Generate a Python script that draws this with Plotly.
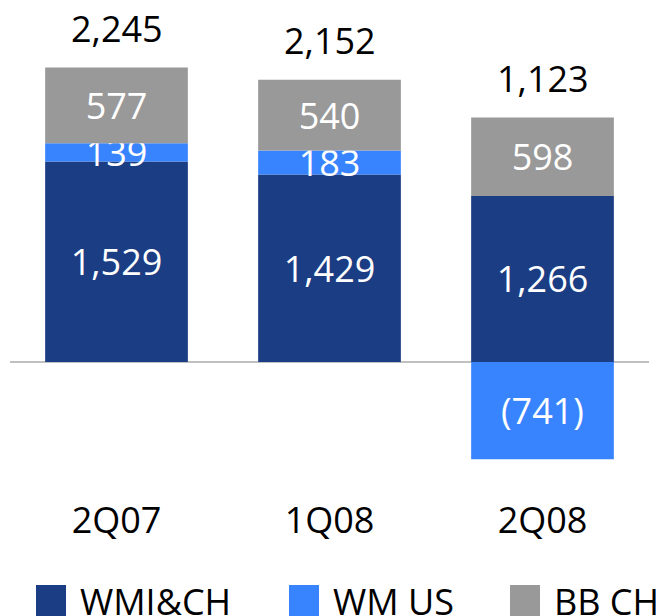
import plotly.graph_objects as go

categories = ["2Q07", "1Q08", "2Q08"]
series_names = ["WMI&CH", "WM US", "BB CH"]
wmi_ch = [1529, 1429, 1266]
wm_us = [139, 183, -741]
bb_ch = [577, 540, 598]
totals = [2245, 2152, 1123]

colors = ["#1B3D84", "#3884FF", "#999999"]
FONT = "Open Sans"

# the page body adds an 8px offset; compensate so screen positions match
OFF = 8
L, T, W, H = 10 - OFF, 21 - OFF, 639, 459
R = 664 - L - W
B = 616 - T - H


def px_x(sx):
    return (sx - OFF - L) / W


def px_y(sy):
    return (T + H - (sy - OFF)) / H


def fmt(v):
    return f"{v:,}" if v >= 0 else f"({-v:,})"


fig = go.Figure()
for name, vals, col in zip(series_names, [wmi_ch, wm_us, bb_ch], colors):
    fig.add_trace(go.Bar(
        x=categories, y=vals, name=name,
        marker=dict(color=col, line=dict(width=0)),
        text=[fmt(v) for v in vals],
        textposition="inside", insidetextanchor="middle",
        textangle=0, constraintext="none",
        textfont=dict(family=FONT, size=36, color="white"),
        showlegend=False,
    ))

# total labels above positive stack
for i, c in enumerate(categories):
    pos_top = sum(v for v in (wmi_ch[i], wm_us[i], bb_ch[i]) if v > 0)
    fig.add_annotation(x=c, y=pos_top, text=fmt(totals[i]), showarrow=False,
                       yanchor="middle", yshift=39,
                       font=dict(family=FONT, size=36, color="black"))

# custom legend
legend_x = [36, 289, 510]
for name, col, sx in zip(series_names, colors, legend_x):
    fig.add_shape(type="rect", xref="paper", yref="paper",
                  x0=px_x(sx), x1=px_x(sx + 30),
                  y0=px_y(620), y1=px_y(585),
                  fillcolor=col, line=dict(width=0))
    fig.add_annotation(xref="paper", yref="paper", x=px_x(sx + 42),
                       y=px_y(601), text=name, showarrow=False,
                       xanchor="left", yanchor="middle",
                       font=dict(family=FONT, size=36, color="black"))

fig.update_layout(
    barmode="relative", bargap=0.33,
    width=664, height=616,
    margin=dict(l=L, r=R, t=T, b=B, autoexpand=False),
    paper_bgcolor="white", plot_bgcolor="white",
    xaxis=dict(showgrid=False, showline=False, ticks="outside", ticklen=9,
               tickcolor="rgba(0,0,0,0)", automargin=False,
               tickfont=dict(family=FONT, size=36, color="black")),
    yaxis=dict(range=[-900, 2600], showgrid=False, showticklabels=False,
               zeroline=True, zerolinecolor="#C0C0C0", zerolinewidth=2,
               automargin=False),
)

fig.write_html("out.html")
